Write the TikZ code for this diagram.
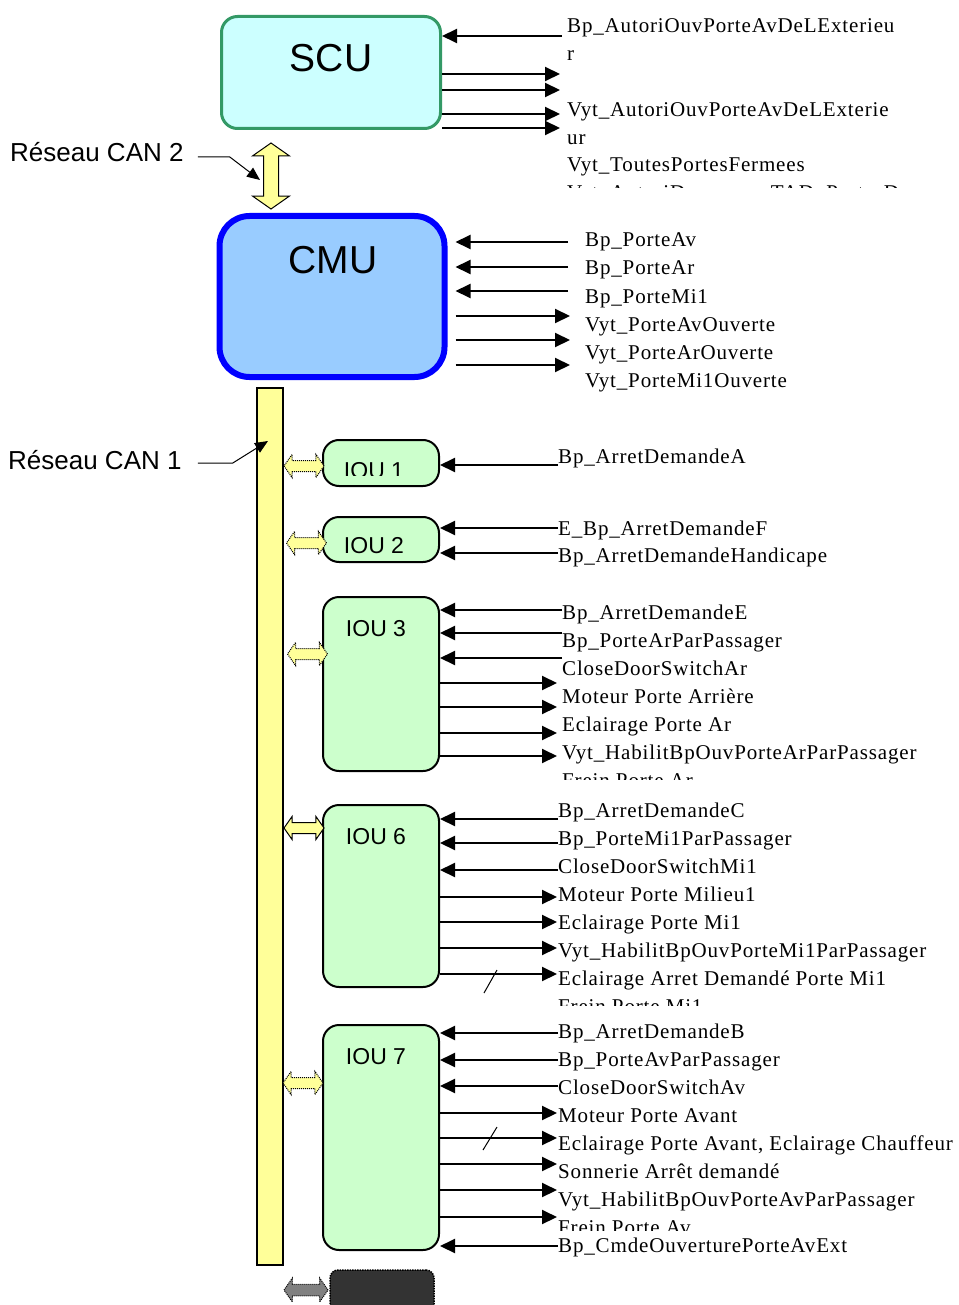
\documentclass[tikz,border=0pt]{standalone}
\usepackage{fontspec}
\setmainfont{Liberation Serif}[LetterSpace=4]
\setsansfont{Liberation Sans}
\usetikzlibrary{arrows.meta,shapes.arrows,positioning,calc}
\definecolor{scufill}{HTML}{CCFFFF}
\definecolor{scuborder}{HTML}{339966}
\definecolor{cmufill}{HTML}{99CCFF}
\definecolor{cmuborder}{HTML}{0000FF}
\definecolor{ioufill}{HTML}{CCFFCC}
\definecolor{busfill}{HTML}{FFFF99}
\definecolor{darkunit}{HTML}{333333}
\definecolor{linkgray}{HTML}{808080}

\begin{document}
\begin{tikzpicture}[x=1pt,y=-1pt,
  unit/.style={draw,line width=2pt,rounded corners=16pt,fill=ioufill,inner sep=0pt},
  ttl/.style={anchor=base,font=\sffamily\fontsize{23}{28}\selectfont},
  big/.style={anchor=base,font=\sffamily\fontsize{39}{44}\selectfont},
  sig/.style={line width=2pt,-{Triangle[length=15pt,width=14pt]}},
  lbl/.style={anchor=base west,inner sep=0pt,font=\fontsize{21}{28}\selectfont},
  canlink/.style={double arrow,draw,line width=1pt,fill=busfill,
    double arrow head extend=6pt,double arrow tip angle=110,inner sep=5pt,
    minimum height=40pt,minimum width=22pt},
  pointer/.style={line width=1pt,-{Triangle[length=13pt,width=11pt]}}
]
\useasboundingbox (0,0) rectangle (958,1305);

% SCU
\node[draw=scuborder,line width=3pt,rounded corners=16pt,fill=scufill,
  minimum width=219pt,minimum height=112pt] (scu) at (331,72.5) {};
\node[big] (scutxt) at (331,72) {SCU};
\coordinate (scuin) at (562,36);
\draw[sig] (scuin) -- (scuin -| scu.east);
\foreach \y [count=\k] in {74,90,114,128}{
  \coordinate (scuout\k) at (560,\y);
  \draw[sig] (scuout\k -| scu.east) -- (scuout\k);
}
\foreach \t [count=\k] in {Bp\_AutoriOuvPorteAvDeLExterieu,r,{},
    Vyt\_AutoriOuvPorteAvDeLExterie,ur,Vyt\_ToutesPortesFermees}
  \node[lbl] (scul\k) at (567,{33+27.8*(\k-1)}) {\t};
\begin{scope}
  \clip (560,170) rectangle (958,188);
  \node[lbl] (scul7) at (567,200) {Vyt\_AutoriDemarrageTAD\_PortesD};
\end{scope}

% CAN 2
\node[canlink,shape border rotate=90,minimum height=66pt,minimum width=36pt,
  inner sep=7pt,double arrow head extend=11pt] (can2) at (271,176) {};
\node[anchor=base west,inner sep=0pt,font=\sffamily\fontsize{26}{30}\selectfont]
  (can2lbl) at (10,162) {Réseau CAN 2};
\coordinate (can2tip) at (260,180);
\draw[pointer] (can2lbl.base east) ++(14,-5) -- ++(32,0) -- (can2tip);

% CMU
\node[draw=cmuborder,line width=6pt,rounded corners=30pt,fill=cmufill,
  minimum width=225pt,minimum height=161pt] (cmu) at (332,296.5) {};
\node[big] (cmutxt) at (333,274) {CMU};
\foreach \y [count=\k] in {242,267,291}{
  \coordinate (cmuin\k) at (568,\y);
  \draw[sig] (cmuin\k) -- ($(cmuin\k -| cmu.east)+(8,0)$);
}
\foreach \y [count=\k] in {316,340,365}{
  \coordinate (cmuout\k) at (570,\y);
  \draw[sig] ($(cmuout\k -| cmu.east)+(8,0)$) -- (cmuout\k);
}
\foreach \t [count=\k] in {Bp\_PorteAv,Bp\_PorteAr,Bp\_PorteMi1,
    Vyt\_PorteAvOuverte,Vyt\_PorteArOuverte,Vyt\_PorteMi1Ouverte}
  \node[lbl] (cmul\k) at (585,{247+28*(\k-1)}) {\t};

% CAN 1
\node[draw,line width=2pt,fill=busfill,inner sep=0pt,minimum width=26pt,
  minimum height=877pt] (bus) at (270,826.5) {};
\node[anchor=base west,inner sep=0pt,font=\sffamily\fontsize{26}{30}\selectfont]
  (can1lbl) at (8,469) {Réseau CAN 1};
\coordinate (can1tip) at (268,441);
\draw[pointer] (can1lbl.base east) ++(16,-6) -- ++(35,0) -- (can1tip);

% IOU
\node[unit,minimum width=116pt,minimum height=46pt] (iou1) at (381,463) {};
\node[unit,minimum width=116pt,minimum height=45pt] (iou2) at (381,539.5) {};
\node[unit,minimum width=116pt,minimum height=174pt] (iou3) at (381,684) {};
\node[unit,minimum width=116pt,minimum height=182pt] (iou6) at (381,896) {};
\node[unit,minimum width=116pt,minimum height=225pt] (iou7) at (381,1137.5) {};
\begin{scope}
  \clip (330,450) rectangle (430,475);
  \node[ttl] (iou1txt) at (374,478) {IOU 1};
\end{scope}
\node[ttl] (iou2txt) at (374,553) {IOU 2};
\node[ttl] (iou3txt) at (376,636) {IOU 3};
\node[ttl] (iou6txt) at (376,844) {IOU 6};
\node[ttl] (iou7txt) at (376,1064) {IOU 7};

\node[canlink,densely dotted] (link1) at (304,466) {};
\node[canlink,densely dotted] (link2) at (306.5,543) {};
\node[canlink,densely dotted] (link3) at (307.5,654) {};
\node[canlink] (link6) at (304,828) {};
\node[canlink,densely dotted] (link7) at (303,1083) {};

% IOU 1 et 2
\coordinate (iou1in1) at (558,465);
\draw[sig] (iou1in1) -- (iou1in1 -| iou1.east);
\node[lbl] (iou1l1) at (558,463) {Bp\_ArretDemandeA};
\foreach \y [count=\k] in {528,553}{
  \coordinate (iou2in\k) at (558,\y);
  \draw[sig] (iou2in\k) -- (iou2in\k -| iou2.east);
}
\node[lbl] (iou2l1) at (558,535) {E\_Bp\_ArretDemandeF};
\node[lbl] (iou2l2) at (558,562) {Bp\_ArretDemandeHandicape};

% IOU 3
\foreach \y [count=\k] in {610,633,658}{
  \coordinate (iou3in\k) at (562,\y);
  \draw[sig] (iou3in\k) -- (iou3in\k -| iou3.east);
}
\foreach \y [count=\k] in {683,707,733,756}{
  \coordinate (iou3out\k) at (557,\y);
  \draw[sig] (iou3out\k -| iou3.east) -- (iou3out\k);
}
\foreach \t [count=\k] in {Bp\_ArretDemandeE,Bp\_PorteArParPassager,CloseDoorSwitchAr,
    Moteur Porte Arrière,Eclairage Porte Ar,Vyt\_HabilitBpOuvPorteArParPassager}
  \node[lbl] (iou3l\k) at (562,{619+28*(\k-1)}) {\t};
\begin{scope}
  \clip (555,765) rectangle (958,779);
  \node[lbl] (iou3l7) at (562,787) {Frein Porte Ar};
\end{scope}

% IOU 6
\foreach \y [count=\k] in {819,843,870}{
  \coordinate (iou6in\k) at (558,\y);
  \draw[sig] (iou6in\k) -- (iou6in\k -| iou6.east);
}
\foreach \y [count=\k] in {897,922,948,974}{
  \coordinate (iou6out\k) at (557,\y);
  \draw[sig] (iou6out\k -| iou6.east) -- (iou6out\k);
}
\draw[line width=1pt] (484,993) -- (497,970);
\foreach \t [count=\k] in {Bp\_ArretDemandeC,Bp\_PorteMi1ParPassager,CloseDoorSwitchMi1,
    Moteur Porte Milieu1,Eclairage Porte Mi1,Vyt\_HabilitBpOuvPorteMi1ParPassager,
    Eclairage Arret Demandé Porte Mi1}
  \node[lbl] (iou6l\k) at (558,{817+28*(\k-1)}) {\t};
\begin{scope}
  \clip (555,992) rectangle (958,1005);
  \node[lbl] (iou6l8) at (558,1013) {Frein Porte Mi1};
\end{scope}

% IOU 7
\foreach \y [count=\k] in {1033,1060,1086,1246}{
  \coordinate (iou7in\k) at (558,\y);
  \draw[sig] (iou7in\k) -- (iou7in\k -| iou7.east);
}
\foreach \y [count=\k] in {1113,1138,1164,1190,1217}{
  \coordinate (iou7out\k) at (557,\y);
  \draw[sig] (iou7out\k -| iou7.east) -- (iou7out\k);
}
\draw[line width=1pt] (483,1150) -- (497,1127);
\foreach \t [count=\k] in {Bp\_ArretDemandeB,Bp\_PorteAvParPassager,CloseDoorSwitchAv,
    Moteur Porte Avant,{Eclairage Porte Avant, Eclairage Chauffeur},
    Sonnerie Arrêt demandé,Vyt\_HabilitBpOuvPorteAvParPassager}
  \node[lbl] (iou7l\k) at (558,{1038+28*(\k-1)}) {\t};
\begin{scope}
  \clip (555,1215) rectangle (958,1230);
  \node[lbl] (iou7l8) at (558,1234) {Frein Porte Av};
\end{scope}
\node[lbl] (iou7l9) at (558,1252) {Bp\_CmdeOuverturePorteAvExt};

% unite suivante
\node[draw,densely dotted,line width=1.5pt,rounded corners=8pt,fill=darkunit,
  minimum width=104pt,minimum height=60pt] (iou8) at (382,1300) {};
\node[canlink,densely dotted,fill=linkgray,minimum height=44pt,minimum width=24pt] (link8) at (306,1290) {};
\end{tikzpicture}
\end{document}
